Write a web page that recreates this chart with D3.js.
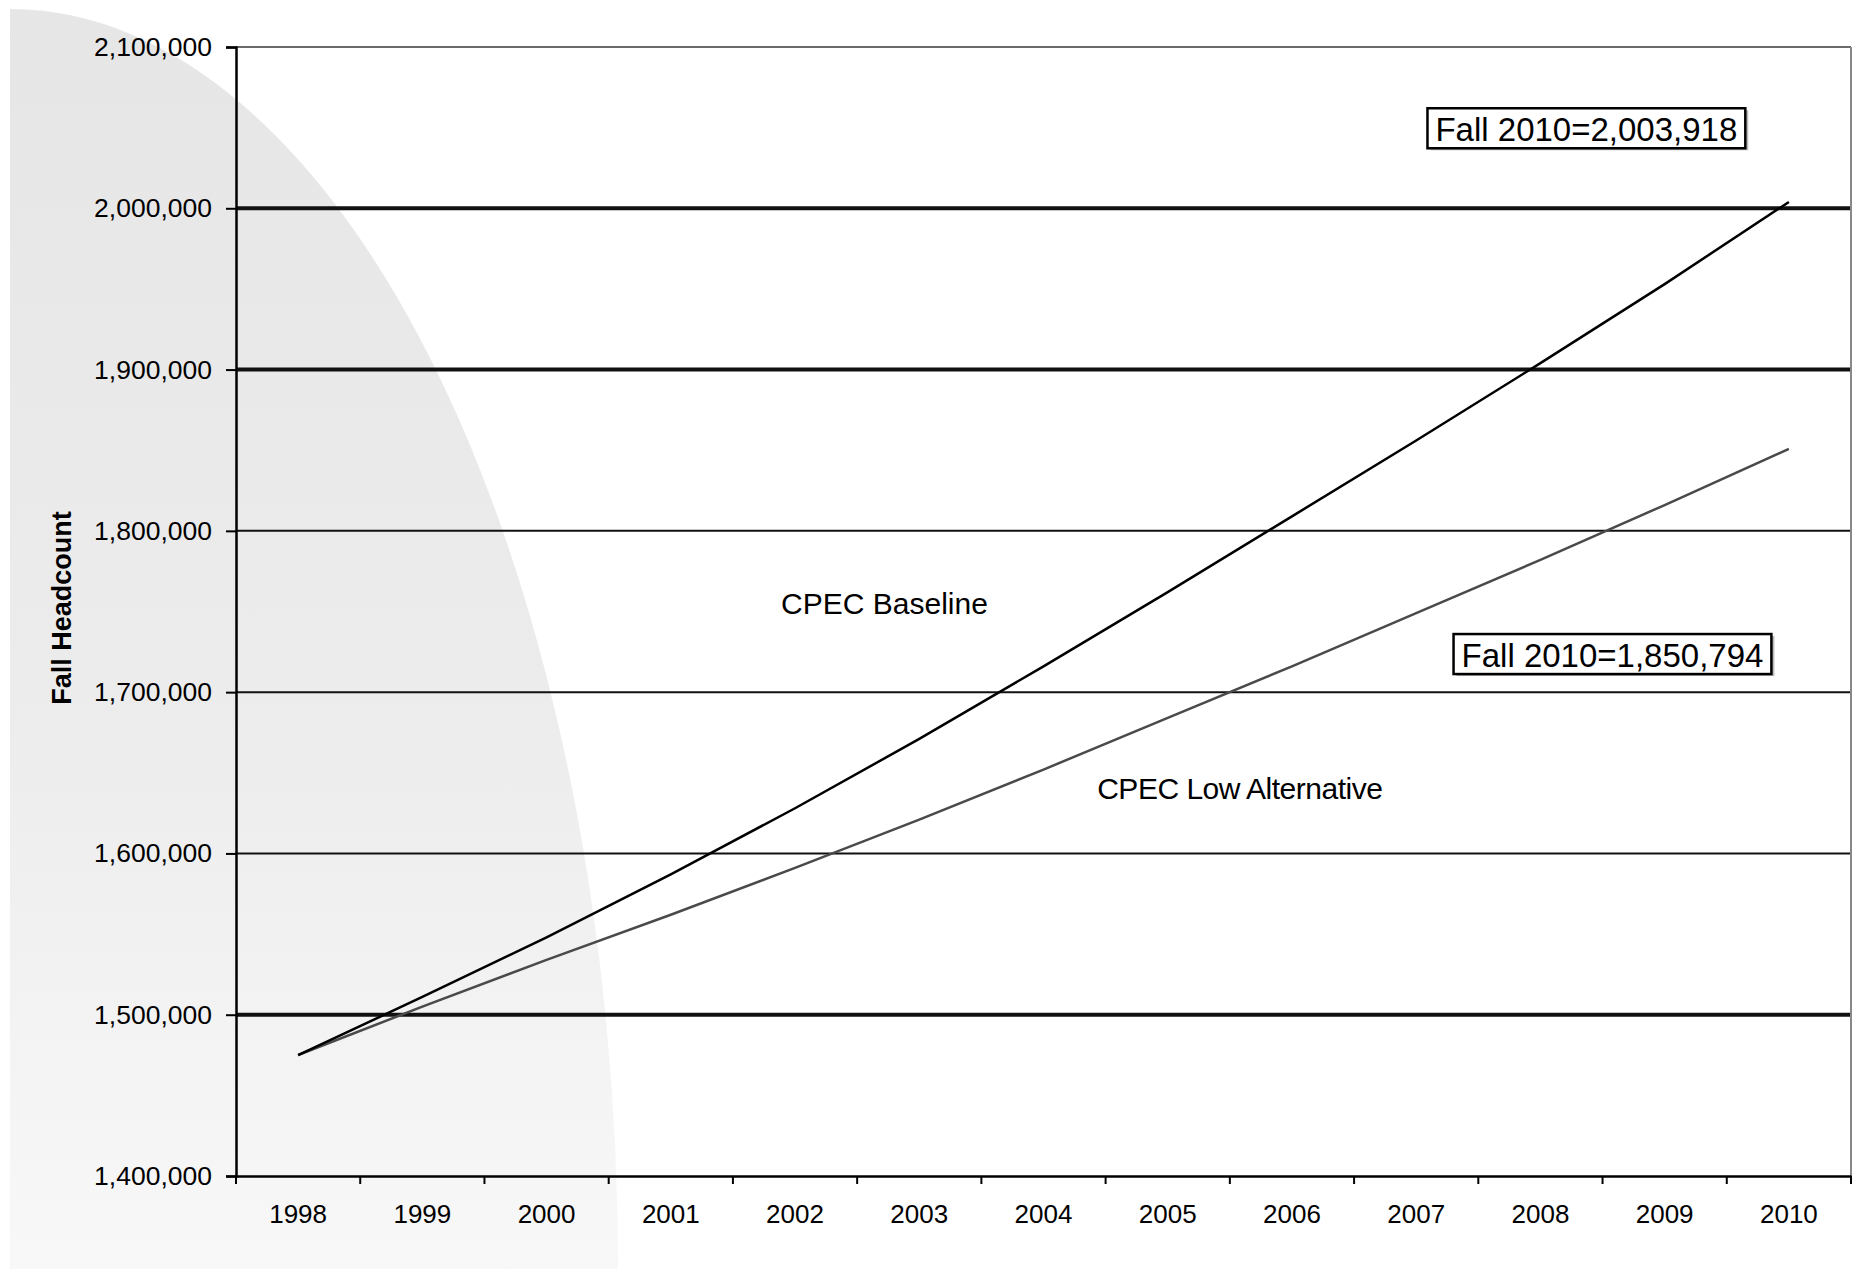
<!DOCTYPE html>
<html>
<head>
<meta charset="utf-8">
<style>
    body { margin: 0; background: #fff; }
    svg { display: block; font-family: "Liberation Sans", Arial, sans-serif; }
</style>
</head>
<body>
<div id="chart"></div>
<script src="https://cdn.jsdelivr.net/npm/d3@7"></script>
<script>
    // data
    var years = [1998, 1999, 2000, 2001, 2002, 2003, 2004, 2005, 2006, 2007, 2008, 2009, 2010];
    var baseline = [1475000, 1511000, 1548000, 1587000, 1628000, 1671000, 1716000, 1762000, 1809000, 1856000, 1904000, 1953000, 2003918];
    var lowAlt = [1475000, 1505000, 1534000, 1562000, 1591000, 1621000, 1652000, 1684000, 1716000, 1749000, 1782000, 1816000, 1850794];
    var yTicks = [1400000, 1500000, 1600000, 1700000, 1800000, 1900000, 2000000, 2100000];
    var seriesNames = ["CPEC Baseline", "CPEC Low Alternative"];
    var endLabels = ["Fall 2010=2,003,918", "Fall 2010=1,850,794"];
    var yTitle = "Fall Headcount";

    var width = 1856, height = 1269;
    var margin = {top: 47, right: 5, bottom: 93, left: 236};

    var svg = d3.select("#chart").append("svg")
        .attr("width", width)
        .attr("height", height);

    // faded grey backdrop, quarter ellipse from the top left corner
    var defs = svg.append("defs");
    var grad = defs.append("linearGradient")
        .attr("id", "bgfade")
        .attr("x1", 0).attr("y1", 0).attr("x2", 0).attr("y2", 1);
    grad.append("stop").attr("offset", "0%").attr("stop-color", "#e6e6e6");
    grad.append("stop").attr("offset", "55%").attr("stop-color", "#ececec");
    grad.append("stop").attr("offset", "100%").attr("stop-color", "#f8f8f8");

    var rx = 608, ry = 1260, cx = 10, cy = 1269;
    svg.append("path")
        .attr("d", `M${cx},${cy} L${cx},${cy - ry} A${rx},${ry} 0 0 1 ${cx + rx},${cy} Z`)
        .attr("fill", "url(#bgfade)");

    var x = d3.scaleBand()
        .domain(years)
        .range([margin.left, width - margin.right]);

    // same axis in continuous years, for the free text
    var xl = d3.scaleLinear()
        .domain([years[0] - 0.5, years[years.length - 1] + 0.5])
        .range([margin.left, width - margin.right]);

    var y = d3.scaleLinear()
        .domain([1400000, 2100000])
        .range([height - margin.bottom, margin.top]);

    var fmt = d3.format(",d");

    // gridlines
    svg.append("g")
        .selectAll("line")
        .data(yTicks.slice(1))
        .enter().append("line")
        .attr("x1", margin.left)
        .attr("x2", width - margin.right)
        .attr("y1", d => y(d))
        .attr("y2", d => y(d))
        .attr("stroke", d => d === 2100000 ? "#6a6a6a" : "#111")
        .attr("stroke-width", d => (d === 1500000 || d === 1900000 || d === 2000000) ? 4 : 2);

    // right border of the plot
    svg.append("line")
        .attr("x1", width - margin.right).attr("x2", width - margin.right)
        .attr("y1", margin.top).attr("y2", height - margin.bottom)
        .attr("stroke", "#888").attr("stroke-width", 2);

    // y axis
    var yAxis = svg.append("g")
        .attr("transform", `translate(${margin.left},0)`)
        .call(d3.axisLeft(y).tickValues(yTicks).tickFormat(fmt).tickSize(10).tickPadding(14));
    yAxis.select(".domain").attr("stroke", "#000").attr("stroke-width", 2.5);
    yAxis.selectAll(".tick line").attr("stroke", "#000").attr("stroke-width", 2);
    yAxis.selectAll("text")
        .attr("font-size", "26.5px")
        .attr("fill", "#000")
        .attr("font-family", "Liberation Sans, Arial, sans-serif");

    // x axis, ticks sit between the categories
    var xAxis = svg.append("g")
        .attr("transform", `translate(0,${height - margin.bottom})`)
        .call(d3.axisBottom(x).tickSize(0).tickPadding(29));
    xAxis.select(".domain").attr("stroke", "#000").attr("stroke-width", 2.5);
    xAxis.selectAll("text")
        .attr("font-size", "26px")
        .attr("fill", "#000")
        .attr("font-family", "Liberation Sans, Arial, sans-serif");
    xAxis.selectAll(".sep")
        .data(years.map(d => x(d)).concat([x.range()[1]]))
        .enter().append("line")
        .attr("class", "sep")
        .attr("x1", d => d).attr("x2", d => d)
        .attr("y1", 0).attr("y2", 8)
        .attr("stroke", "#000").attr("stroke-width", 2);

    // the two projections
    var line = d3.line()
        .x((d, i) => x(years[i]) + x.bandwidth() / 2)
        .y(d => y(d));

    svg.append("path")
        .datum(lowAlt)
        .attr("fill", "none")
        .attr("stroke", "#4a4a4a")
        .attr("stroke-width", 2.5)
        .attr("d", line);

    svg.append("path")
        .datum(baseline)
        .attr("fill", "none")
        .attr("stroke", "#000")
        .attr("stroke-width", 2.5)
        .attr("d", line);

    // series names
    svg.append("text")
        .attr("x", xl(2002.72)).attr("y", y(1748400))
        .attr("text-anchor", "middle")
        .attr("font-size", "30px")
        .text(seriesNames[0]);

    svg.append("text")
        .attr("x", xl(2005.58)).attr("y", y(1633700))
        .attr("text-anchor", "middle")
        .attr("font-size", "30px")
        .attr("letter-spacing", "-0.5px")
        .text(seriesNames[1]);

    // boxed end values
    var boxes = [
        {text: endLabels[0], year: 2008.37, value: 2049000},
        {text: endLabels[1], year: 2008.58, value: 1723000}
    ];
    boxes.forEach(function (b) {
        var g = svg.append("g")
            .attr("transform", `translate(${xl(b.year)},${y(b.value)})`);
        var t = g.append("text")
            .attr("text-anchor", "middle")
            .attr("y", 12)
            .attr("font-size", "33px")
            .text(b.text);
        var w = t.node().getComputedTextLength() + 16;
        g.insert("rect", "text")
            .attr("x", -w / 2 + 3).attr("y", -19)
            .attr("width", w).attr("height", 40)
            .attr("fill", "#bbb");
        g.insert("rect", "text")
            .attr("x", -w / 2).attr("y", -21)
            .attr("width", w).attr("height", 40)
            .attr("fill", "#fff")
            .attr("stroke", "#000")
            .attr("stroke-width", 2.5);
    });

    // axis title
    svg.append("text")
        .attr("transform", "translate(71,608) rotate(-90)")
        .attr("text-anchor", "middle")
        .attr("font-size", "27px")
        .attr("font-weight", "bold")
        .text(yTitle);
</script>
</body>
</html>
